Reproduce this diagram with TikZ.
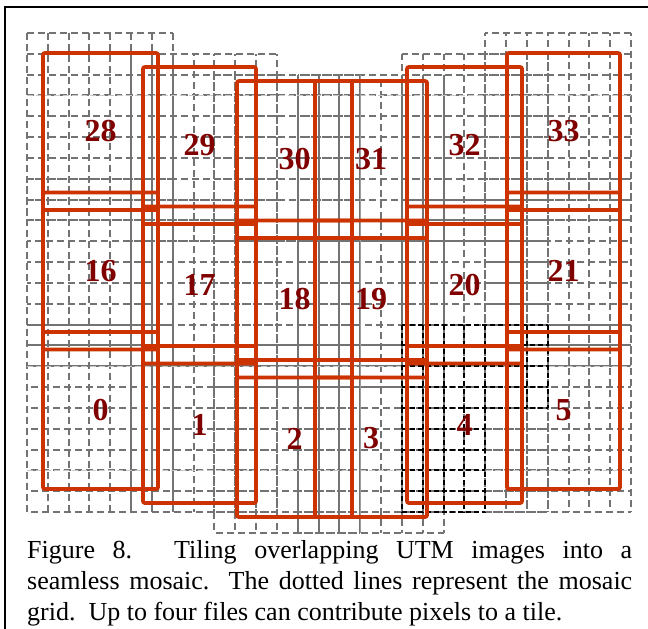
\documentclass[tikz,border=0pt]{standalone}
\usepackage{fontspec}
\setmainfont{Liberation Serif}
\usepackage{tikz}
\usetikzlibrary{positioning}
\definecolor{tilered}{RGB}{204,51,0}
\definecolor{labelred}{RGB}{128,0,0}
\definecolor{gridgray}{RGB}{115,115,115}
\definecolor{faintgray}{RGB}{200,200,200}

% grid cells of one image: columns #2..#3, rows #4..#5, dash phase #6
\newcommand{\imagegrid}[6][gridline]{%
  \foreach \gi in {#2,...,#3}
    \draw[#1,dash phase=#6] ({27+20.83*\gi},{33+20.83*#4}) -- ({27+20.83*\gi},{33+20.83*#5});
  \foreach \gj in {#4,...,#5}
    \draw[#1,dash phase=#6] ({27+20.83*#2},{33+20.83*\gj}) -- ({27+20.83*#3},{33+20.83*\gj});
}

\begin{document}
\begin{tikzpicture}[x=1pt, y=-1pt,
    gridline/.style={gridgray, line width=2pt, dash pattern=on 7pt off 4pt},
    tilegrid/.style={black, line width=2pt, dash pattern=on 5pt off 3pt},
    faintline/.style={faintgray, line width=0.8pt},
    tile/.style={draw=tilered, line width=3.8pt, rounded corners=2pt, inner sep=0pt,
        minimum height=157pt, text=labelred, font=\fontsize{32}{32}\selectfont\bfseries},
    caption/.style={anchor=base west, inner sep=0pt, font=\fontsize{26}{30}\selectfont}]
    \useasboundingbox (0,0) rectangle (648,629);
    % Frame
    \draw[line width=2pt] (5,629) -- (5,6.5) -- (648,6.5);
    % Mosaic grid under each image
    \imagegrid{0}{7}{0}{9}{0pt}
    \imagegrid{0}{7}{7}{16}{3.5pt}
    \imagegrid{0}{7}{14}{23}{7pt}
    \imagegrid{5}{12}{1}{10}{5pt}
    \imagegrid{5}{12}{8}{16}{8.5pt}
    \imagegrid{5}{12}{15}{23}{1.5pt}
    \imagegrid{9}{16}{2}{10}{2pt}
    \imagegrid{9}{16}{9}{17}{5.5pt}
    \imagegrid{9}{16}{15}{24}{9pt}
    \imagegrid{13}{20}{2}{10}{6pt}
    \imagegrid{13}{20}{9}{17}{9.5pt}
    \imagegrid{13}{20}{15}{24}{2.5pt}
    \imagegrid{18}{25}{1}{10}{1pt}
    \imagegrid{18}{25}{8}{16}{4.5pt}
    \imagegrid{18}{25}{15}{23}{8pt}
    \imagegrid{22}{29}{0}{9}{4pt}
    \imagegrid{22}{29}{7}{16}{7.5pt}
    \imagegrid{22}{29}{14}{23}{0.5pt}
    % Faint lines
    \foreach \fj in {3,16,21}
        \draw[faintline, dash pattern=on 6pt off 3pt] (27,{33+20.83*\fj}) -- (631,{33+20.83*\fj});
    \draw[faintline, gridgray!70, line width=0.6pt] (360.3,74.7) -- (360.3,532.9);
    % Cells of tile 4
    \imagegrid[tilegrid]{18}{25}{14}{18}{0pt}
    \imagegrid[tilegrid]{18}{22}{18}{23}{0pt}
    % Images
    \node[tile, minimum width=115pt] (t28) at (100.5,131.5) {28};
    \node[tile, minimum width=115pt] (t16) at (100.5,271) {16};
    \node[tile, minimum width=115pt] (t0) at (100.5,410.5) {0};
    \node[tile, minimum width=113pt] (t29) at (199.5,145.5) {29};
    \node[tile, minimum width=113pt] (t17) at (199.5,285) {17};
    \node[tile, minimum width=113pt] (t1) at (199.5,424.5) {1};
    \node[tile, minimum width=115pt] (t30) at (294.5,159.5) {30};
    \node[tile, minimum width=115pt] (t18) at (294.5,299) {18};
    \node[tile, minimum width=115pt] (t2) at (294.5,438.5) {2};
    \node[tile, minimum width=112pt] (t31) at (371,159.5) {31};
    \node[tile, minimum width=112pt] (t19) at (371,299) {19};
    \node[tile, minimum width=112pt] (t3) at (371,438.5) {3};
    \node[tile, minimum width=115pt] (t32) at (464.5,145.5) {32};
    \node[tile, minimum width=115pt] (t20) at (464.5,285) {20};
    \node[tile, minimum width=115pt] (t4) at (464.5,424.5) {4};
    \node[tile, minimum width=113pt] (t33) at (563.5,131.5) {33};
    \node[tile, minimum width=113pt] (t21) at (563.5,271) {21};
    \node[tile, minimum width=113pt] (t5) at (563.5,410.5) {5};
    % Caption
    \node[caption] (cap1) at (27,558) {\makebox[605pt][s]{Figure 8. Tiling overlapping UTM images into a}};
    \node[caption] (cap2) at (27,589) {\makebox[605pt][s]{seamless mosaic.\ \ The dotted lines represent the mosaic}};
    \node[caption] (cap3) at (27,620) {grid.\ \ Up to four files can contribute pixels to a tile.};
\end{tikzpicture}
\end{document}
